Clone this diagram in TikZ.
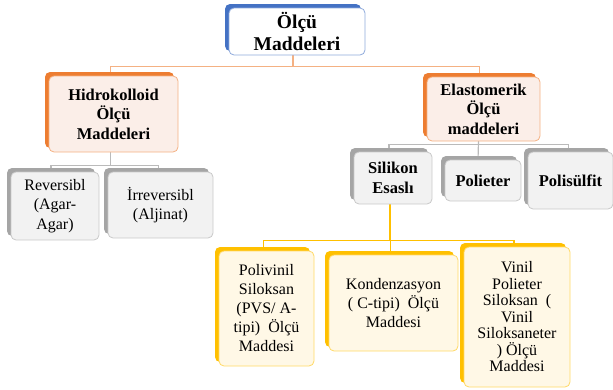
\documentclass[tikz,border=0pt]{standalone}
\usepackage{fontspec}
\setmainfont{Liberation Serif}
\usetikzlibrary{shadows, backgrounds}
\definecolor{blueD}{HTML}{4472C4}
\definecolor{blueL}{HTML}{8FAADC}
\definecolor{orangeD}{HTML}{ED7D31}
\definecolor{orangeL}{HTML}{F4B183}
\definecolor{orangeF}{HTML}{FBEEE8}
\definecolor{grayD}{HTML}{A5A5A5}
\definecolor{grayL}{HTML}{C9C9C9}
\definecolor{grayF}{HTML}{F2F2F2}
\definecolor{grayC}{HTML}{BABABA}
\definecolor{goldD}{HTML}{FFC000}
\definecolor{goldL}{HTML}{FFD966}
\definecolor{goldF}{HTML}{FFF8E6}
\tikzstyle{box} = [rectangle, rounded corners=5pt, align=center, inner sep=0pt, line width=0.8pt]
\tikzstyle{rootbox} = [box, draw=blueL, fill=white, general shadow={fill=blueD, shadow xshift=-4pt, shadow yshift=4pt}, font=\fontsize{19.5}{22}\selectfont\bfseries]
\tikzstyle{groupbox} = [box, draw=orangeL, fill=orangeF, general shadow={fill=orangeD, shadow xshift=-4pt, shadow yshift=4pt}, font=\fontsize{16.5}{19.5}\selectfont\bfseries]
\tikzstyle{kindbox} = [box, draw=grayL, fill=grayF, general shadow={fill=grayD, shadow xshift=-4pt, shadow yshift=4pt}]
\tikzstyle{typebox} = [box, draw=goldL, fill=goldF, general shadow={fill=goldD, shadow xshift=-4pt, shadow yshift=4pt}, font=\fontsize{16}{19}\selectfont]
\tikzstyle{rootline} = [draw=orangeL, line width=1.5pt]
\tikzstyle{grayline} = [draw=grayC, line width=1.2pt]
\tikzstyle{goldline} = [draw=goldD, line width=1.2pt]
\newcommand{\reg}{\fontsize{16}{19.5}\selectfont}
\newcommand{\hdr}{\fontsize{16.5}{19.5}\selectfont\bfseries}

\begin{document}
\begin{tikzpicture}[x=1pt, y=-1pt]
\useasboundingbox (0,0) rectangle (613,389);
\node (root) [rootbox, minimum width=136pt, minimum height=47pt] at (297,31.5) {Ölçü\\Maddeleri};

\node (hidro) [groupbox, minimum width=129pt, minimum height=76pt] at (113.5,114) {Hidrokolloid\\Ölçü\\Maddeleri};
\node (elasto) [groupbox, minimum width=113pt, minimum height=64pt] at (483.5,109) {Elastomerik\\Ölçü\\maddeleri};

\node (rev) [kindbox, font=\reg, minimum width=88pt, minimum height=68pt] at (55,206) {Reversibl\\(Agar-\\Agar)};
\node (irr) [kindbox, font=\reg, minimum width=105pt, minimum height=66pt] at (160.5,205) {İrreversibl\\(Aljinat)};

\node (silikon) [kindbox, font=\hdr, minimum width=78pt, minimum height=52pt] at (393,178) {Silikon\\Esaslı};
\node (polieter) [kindbox, font=\hdr, minimum width=76pt, minimum height=41pt] at (483,180.5) {Polieter};
\node (polisulfit) [kindbox, font=\hdr, minimum width=85pt, minimum height=57pt] at (570.5,180.5) {Polisülfit};

\node (pvs) [typebox, minimum width=95pt, minimum height=115pt] at (266.5,308.5) {Polivinil\\Siloksan\\(PVS/ A-\\tipi)\ \ Ölçü\\Maddesi};
\node (kond) [typebox, minimum width=129pt, minimum height=96pt] at (393.5,303) {Kondenzasyon\\( C-tipi)\ \ Ölçü\\Maddesi};
\node (vinil) [typebox, font=\fontsize{16}{16.5}\selectfont, minimum width=106pt, minimum height=140pt] at (517,317) {Vinil\\Polieter\\Siloksan\ \ (\\Vinil\\Siloksaneter\\) Ölçü\\Maddesi};

\begin{scope}[on background layer]
  \draw [rootline] ([xshift=-4pt]root.south) -- ++(0,11) -| ([xshift=-3pt]hidro.north);
  \draw [rootline] ([xshift=-4pt]root.south) -- ++(0,11) -| ([xshift=-4pt]elasto.north);

  \draw [grayline] ([xshift=-3pt]hidro.south) -- ++(0,13) -| ([xshift=-4pt]rev.north);
  \draw [grayline] ([xshift=-3pt]hidro.south) -- ++(0,13) -| ([xshift=-2pt]irr.north);

  \draw [grayline] ([xshift=-5pt]elasto.south) -- ++(0,3) -| ([xshift=-4pt]silikon.north);
  \draw [grayline] ([xshift=-5pt]elasto.south) -- ([xshift=-5pt]polieter.north);
  \draw [grayline] ([xshift=-5pt]elasto.south) -- ++(0,3) -| ([xshift=-2pt]polisulfit.north);

  \draw [goldline] ([xshift=-3pt]silikon.south) -- ++(0,36) -| ([xshift=-3pt]pvs.north);
  \draw [goldline] ([xshift=-3pt]silikon.south) -- ++(0,36) -| ([xshift=-3pt]kond.north);
  \draw [goldline] ([xshift=-3pt]silikon.south) -- ++(0,36) -| ([xshift=-3pt]vinil.north);
\end{scope}
\end{tikzpicture}
\end{document}
